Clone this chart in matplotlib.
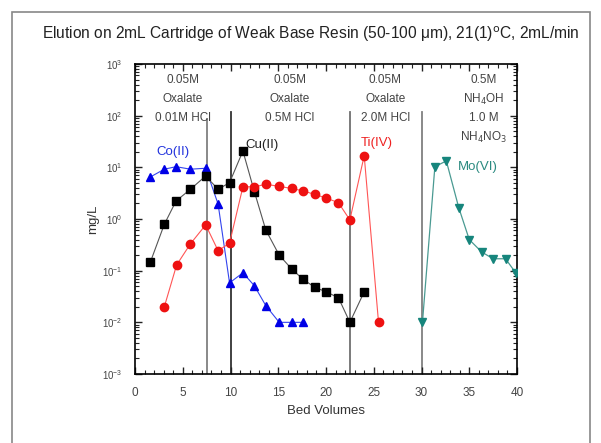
import matplotlib
matplotlib.use("Agg")
import matplotlib.pyplot as plt
from matplotlib.patches import Rectangle
from matplotlib.ticker import MultipleLocator, LogLocator, NullFormatter

plt.rcParams['font.family'] = ['Liberation Sans', 'DejaVu Sans']

# elution data, mg/L vs bed volumes
co_bv = [1.6, 3.07, 4.3, 5.8, 7.4, 8.7, 9.9, 11.3, 12.5, 13.7, 15.1, 16.4, 17.6]
co_mg = [6.5, 9.2, 10.3, 9.2, 9.6, 1.95, 0.058, 0.091, 0.051, 0.021, 0.01, 0.01, 0.01]

cu_bv = [1.6, 3.07, 4.3, 5.8, 7.4, 8.7, 9.9, 11.3, 12.5, 13.7, 15.1, 16.4, 17.6,
         18.8, 20.0, 21.3, 22.5, 24.0]
cu_mg = [0.145, 0.79, 2.23, 3.76, 6.8, 3.76, 5.05, 20.7, 3.38, 0.61, 0.2, 0.108, 0.068,
         0.048, 0.039, 0.03, 0.01, 0.039]

ti_bv = [3.07, 4.36, 5.8, 7.4, 8.7, 9.9, 11.3, 12.5, 13.7, 15.05, 16.4, 17.6, 18.8,
         20.0, 21.3, 22.5, 24.0, 25.5]
ti_mg = [0.02, 0.129, 0.33, 0.77, 0.244, 0.34, 4.2, 4.2, 4.7, 4.3, 3.9, 3.5, 3.0,
         2.55, 2.07, 0.96, 16.8, 0.01]

mo_bv = [30.1, 31.4, 32.6, 33.9, 35.0, 36.3, 37.5, 38.8, 39.9]
mo_mg = [0.01, 10.3, 13.3, 1.66, 0.40, 0.23, 0.17, 0.17, 0.089]

cuts = [7.5, 10, 22.5, 30]
cut_tops = [85, 117, 117, 117]
cut_colors = ['#808080', '#333333', '#707070', '#808080']

steps = ["0.05M\nOxalate\n0.01M HCl", "0.05M\nOxalate\n0.5M HCl",
         "0.05M\nOxalate\n2.0M HCl", "0.5M\nNH$_4$OH\n1.0 M\nNH$_4$NO$_3$"]
step_x = [5.0, 16.2, 26.2, 36.5]
step_spacing = [1.8, 1.8, 1.8, 1.55]

fig = plt.figure(figsize=(6.01, 4.43), dpi=100)
fig.patches.append(Rectangle((12 / 601, -0.1), 578 / 601, 1 - 12 / 443 + 0.1,
                             transform=fig.transFigure, fill=False,
                             edgecolor='#888888', lw=1.2))
ax = fig.add_axes([135 / 601, 1 - 374 / 443, 382 / 601, 310 / 443])

for xc, yt, c in zip(cuts, cut_tops, cut_colors):
    ax.plot([xc, xc], [1e-3, yt], color=c, lw=1.3, zorder=1)

ax.plot(co_bv, co_mg, color='#3344ee', lw=0.8, marker='^', ms=6,
        mfc='#0000e6', mec='#0000e6', zorder=3)
ax.plot(cu_bv, cu_mg, color='#555555', lw=0.8, marker='s', ms=5.3,
        mfc='black', mec='black', zorder=3)
ax.plot(ti_bv, ti_mg, color='#ff5555', lw=0.8, marker='o', ms=6,
        mfc='#ee1111', mec='#ee1111', zorder=3)
ax.plot(mo_bv, mo_mg, color='#4a9a92', lw=0.9, marker='v', ms=6.3,
        mfc='#16857c', mec='#16857c', zorder=3)

for txt, xs, ls in zip(steps, step_x, step_spacing):
    ax.text(xs, 650, txt, ha='center', va='top', fontsize=8.5,
            color='#444444', linespacing=ls)

ax.text(2.2, 17, "Co(II)", color='#2233dd', fontsize=9.5)
ax.text(11.6, 24, "Cu(II)", color='#222222', fontsize=9.5)
ax.text(23.6, 26, "Ti(IV)", color='#ee2222', fontsize=9.5)
ax.text(33.8, 9.0, "Mo(VI)", color='#2a8a80', fontsize=9.5)

ax.set_yscale('log')
ax.set_xlim(0, 40)
ax.set_ylim(1e-3, 1e3)
ax.xaxis.set_major_locator(MultipleLocator(5))
ax.xaxis.set_minor_locator(MultipleLocator(1))
ax.yaxis.set_major_locator(LogLocator(base=10, numticks=10))
ax.yaxis.set_minor_locator(LogLocator(base=10, subs=range(2, 10), numticks=10))
ax.yaxis.set_minor_formatter(NullFormatter())
ax.tick_params(which='both', direction='in', top=True, right=True,
               labelsize=8.5, colors='#222222', labelcolor='#444444')
ax.tick_params(which='major', length=5, width=1)
ax.tick_params(which='minor', length=3, width=0.8)
ax.tick_params(axis='x', pad=9)
ax.tick_params(axis='y', labelsize=7, pad=9)
for s in ax.spines.values():
    s.set_linewidth(1.2)

ax.set_xlabel("Bed Volumes", fontsize=9.5, color='#333333', labelpad=5)
ax.set_ylabel("mg/L", fontsize=9.5, color='#333333', labelpad=2)

fig.text(311 / 601, 1 - 34 / 443,
         "Elution on 2mL Cartridge of Weak Base Resin (50-100 \u03bcm), 21(1)$^{\\rm o}$C, 2mL/min",
         ha='center', va='center', fontsize=11.2, color='#222222')

fig.savefig("out.png", dpi=100)
